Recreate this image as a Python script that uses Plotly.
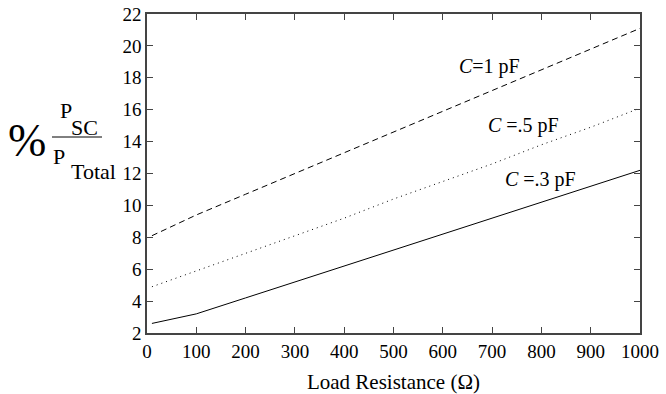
import plotly.graph_objects as go

resistance = [10, 100, 200, 300, 400, 500, 600, 700, 800, 900, 1000]
c_1pF = [8.1, 9.4, 10.7, 12.0, 13.3, 14.6, 15.9, 17.2, 18.5, 19.8, 21.1]
c_05pF = [4.9, 5.9, 7.0, 8.1, 9.2, 10.4, 11.5, 12.6, 13.8, 14.9, 16.1]
c_03pF = [2.6, 3.2, 4.2, 5.2, 6.2, 7.2, 8.2, 9.2, 10.2, 11.2, 12.2]

x_ticks = [0, 100, 200, 300, 400, 500, 600, 700, 800, 900, 1000]
y_ticks = [2, 4, 6, 8, 10, 12, 14, 16, 18, 20, 22]

curve_labels = ["<i>C</i>=1 pF", "<i>C</i> =.5 pF", "<i>C</i> =.3 pF"]
label_x = [694, 763, 799]
label_y = [18.68, 14.98, 11.6]

FONT = "Liberation Serif, Times New Roman, serif"

W, H = 666, 394
ML, MR, MT, MB = 147, 26, 14, 61
PW, PH = W - ML - MR, H - MT - MB


def px(xp):
    return (xp - ML) / PW


def py(yp):
    return 1 - (yp - MT) / PH


fig = go.Figure()
fig.add_trace(go.Scatter(x=resistance, y=c_1pF, mode="lines",
                         line=dict(color="black", width=1, dash="6px,4px")))
fig.add_trace(go.Scatter(x=resistance, y=c_05pF, mode="lines",
                         line=dict(color="black", width=1, dash="1px,4px")))
fig.add_trace(go.Scatter(x=resistance, y=c_03pF, mode="lines",
                         line=dict(color="black", width=1)))

for txt, lx, ly in zip(curve_labels, label_x, label_y):
    fig.add_annotation(x=lx, y=ly, text=txt, showarrow=False,
                       font=dict(family=FONT, size=20, color="black"))

# y-axis title: % P_SC / P_Total
ytitle = [("%", 27, 140, 46), ("P", 66, 111, 22), ("SC", 84, 128, 22),
          ("P", 59, 156, 22), ("Total", 93, 171, 22)]
for txt, xp, yp, sz in ytitle:
    fig.add_annotation(xref="paper", yref="paper", x=px(xp), y=py(yp),
                       xanchor="center", yanchor="middle", text=txt, showarrow=False,
                       font=dict(family=FONT, size=sz, color="black"))
fig.add_shape(type="line", xref="paper", yref="paper", x0=px(52), x1=px(102),
              y0=py(137), y1=py(137), line=dict(color="black", width=1))

axis_common = dict(showline=True, linecolor="#444", linewidth=1.5, mirror="ticks",
                   ticks="inside", ticklen=6, tickcolor="#444", tickwidth=1,
                   showgrid=False, zeroline=False,
                   tickfont=dict(family=FONT, size=19, color="black"))

fig.update_xaxes(range=[0, 1000], tickvals=x_ticks, **axis_common,
                 title=dict(text="Load Resistance (Ω)", font=dict(family=FONT, size=21, color="black"),
                            standoff=14))
fig.update_yaxes(range=[2, 22], tickvals=y_ticks, **axis_common)

fig.update_layout(width=W, height=H, margin=dict(l=ML, r=MR, t=MT, b=MB, autoexpand=False),
                  paper_bgcolor="white", plot_bgcolor="white", showlegend=False)

fig.write_html("out.html", config={"displayModeBar": False},
               post_script="document.body.style.margin='0';")
